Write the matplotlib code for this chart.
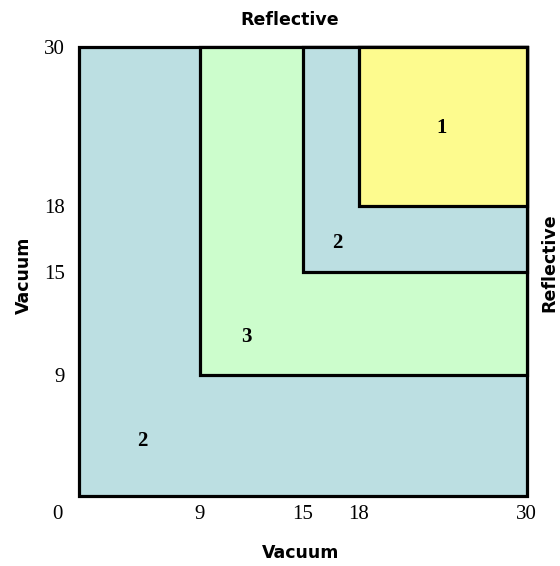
import numpy as np
import matplotlib
matplotlib.use("Agg")
import matplotlib.pyplot as plt

# nested square zones, each one runs from its corner up to 30
corners = [0, 9, 15, 18]
fills = ["#bcdfe2", "#ccfdcc", "#bcdfe2", "#fdfb8e"]
zone_labels = ["2", "3", "2", "1"]
label_x = [4.7, 11.7, 16.85, 23.9]
label_y = [4.1, 11.2, 16.3, 23.9]
ticks = [9, 15, 18, 30]
top = 30

# the drawing is schematic, not to scale: piecewise axis break points
breaks = [0, 9, 15, 18, 30]
x_pos = [0, 121.5, 224, 280, 448]
y_pos = [0, 120.5, 223.5, 289.5, 449]


def make_scale(pos):
    def fwd(v):
        return np.interp(v, breaks, pos)

    def inv(v):
        return np.interp(v, pos, breaks)
    return fwd, inv


fig = plt.figure(figsize=(5.6, 5.66), dpi=100)
ax = fig.add_axes([78.5 / 560, (566 - 495.5) / 566, 448 / 560, 449 / 566])
ax.set_xscale("function", functions=make_scale(x_pos))
ax.set_yscale("function", functions=make_scale(y_pos))

for i, c in enumerate(corners):
    ax.bar(c, top - c, width=top - c, bottom=c, align="edge",
           color=fills[i], edgecolor="black", linewidth=2.3,
           clip_on=False, zorder=i + 1)
    ax.text(label_x[i], label_y[i], zone_labels[i], ha="center",
            va="center", fontsize=15, family="Liberation Serif",
            fontweight="bold", zorder=10)

ax.set_xlim(0, top)
ax.set_ylim(0, top)
for s in ax.spines.values():
    s.set_visible(False)
ax.set_xticks(ticks)
ax.set_yticks(ticks)
ax.tick_params(axis="x", length=0, pad=7)
ax.tick_params(axis="y", length=0, pad=10)
for lab in ax.get_xticklabels() + ax.get_yticklabels():
    lab.set_fontfamily("Liberation Serif")
    lab.set_fontsize(15)
ax.annotate("0", xy=(0, 0), xytext=(-15.5, -14), textcoords="offset points",
            ha="center", va="center", fontsize=15, family="Liberation Serif")

bold = dict(fontsize=12.5, fontweight="bold", ha="center", va="center")
fig.text(289.5 / 560, 1 - 20 / 566, "Reflective", **bold)
fig.text(300.5 / 560, 1 - 553 / 566, "Vacuum", **bold)
fig.text(24 / 560, 1 - 275 / 566, "Vacuum", rotation=90, **bold)
fig.text(549 / 560, 1 - 263 / 566, "Reflective", rotation=90, **bold)

plt.savefig("out.png", dpi=100)
